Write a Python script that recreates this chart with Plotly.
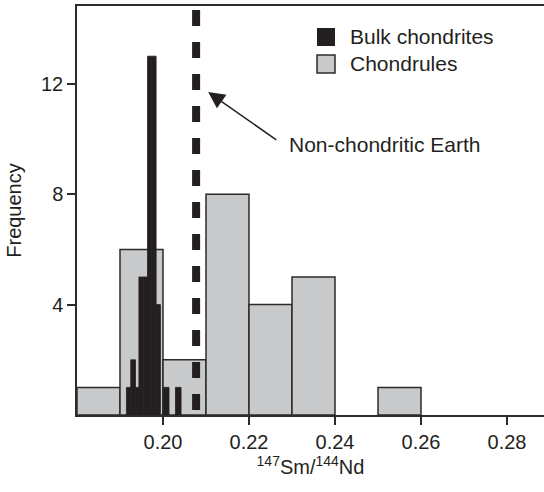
import plotly.graph_objects as go

# Chondrules histogram (bin left edges, counts), bin width 0.01
chondrule_bin_left = [0.18, 0.19, 0.20, 0.21, 0.22, 0.23, 0.25]
chondrule_counts = [1, 6, 2, 8, 4, 5, 1]
chondrule_bin_width = 0.01

# Bulk chondrites histogram (bin left edges, widths, counts)
bulk_bin_left = [0.1915, 0.1925, 0.1936, 0.1944, 0.1954, 0.1964, 0.1974, 0.1984, 0.2001, 0.2029]
bulk_bin_width = [0.0010, 0.0011, 0.0008, 0.0010, 0.0010, 0.0010, 0.0010, 0.0010, 0.0013, 0.0013]
bulk_counts = [1, 2, 1, 5, 5, 13, 13, 4, 1, 1]

earth_ratio = 0.2077
x_ticks = [0.20, 0.22, 0.24, 0.26, 0.28]
y_ticks = [4, 8, 12]
series_names = ["Bulk chondrites", "Chondrules"]
earth_label = "Non-chondritic Earth"

INK = "#231f20"
GRAY = "#c8c9cb"
FONT = "Liberation Sans, Arial, sans-serif"

fig = go.Figure()
fig.add_trace(go.Bar(
    x=chondrule_bin_left, y=chondrule_counts, width=chondrule_bin_width, offset=0,
    marker=dict(color=GRAY, line=dict(color="#2b2b2b", width=1.5)),
    name=series_names[1], showlegend=False))
fig.add_trace(go.Bar(
    x=bulk_bin_left, y=bulk_counts, width=bulk_bin_width, offset=0,
    marker=dict(color=INK, line=dict(color=INK, width=0.8)),
    name=series_names[0], showlegend=False))

# dashed line for Earth
fig.add_shape(type="line", xref="x", yref="y", x0=earth_ratio, x1=earth_ratio,
              y0=14.67, y1=0, line=dict(color=INK, width=8, dash="16px,16px"), layer="above")

# arrow
fig.add_annotation(x=0.2105, y=11.70, ax=0.2267, ay=9.93, axref="x", ayref="y",
                   xref="x", yref="y", text="", showarrow=True, arrowhead=2,
                   arrowsize=2.2, arrowwidth=1.5, arrowcolor=INK, standoff=0)
fig.add_annotation(x=(287 - 77) / 467, y=(415 - 145) / 409, xref="paper", yref="paper",
                   text=earth_label, showarrow=False, xanchor="left", yanchor="middle",
                   font=dict(size=21, color=INK, family=FONT))

# manual legend
legend_colors = [INK, GRAY]
for i, (nm, col) in enumerate(zip(series_names, legend_colors)):
    top = 28 + 27 * i
    fig.add_shape(type="rect", xref="paper", yref="paper",
                  x0=(317 - 77) / 467, x1=(335 - 77) / 467,
                  y0=(415 - top) / 409, y1=(415 - top - 18) / 409,
                  fillcolor=col, line=dict(color=INK if i == 0 else "#2b2b2b", width=1.5 if i else 0))
    fig.add_annotation(x=(348 - 77) / 467, y=(415 - (top + 9)) / 409, xref="paper", yref="paper",
                       text=nm, showarrow=False, xanchor="left", yanchor="middle",
                       font=dict(size=21, color=INK, family=FONT))

fig.update_layout(
    width=544, height=492,
    margin=dict(l=77, r=0, t=6, b=77),
    paper_bgcolor="white", plot_bgcolor="white",
    barmode="overlay",
    showlegend=False,
    font=dict(family=FONT, size=20, color=INK),
    xaxis=dict(range=[0.18, 0.18 + 467 / 4300], tickvals=x_ticks,
               ticktext=[f"{v:.2f}" for v in x_ticks],
               showline=True, linecolor="#2b2b2b", linewidth=1.5, mirror=True,
               ticks="outside", ticklen=8, tickwidth=1.5, tickcolor="#2b2b2b",
               showgrid=False, zeroline=False,
               tickfont=dict(size=20, color=INK),
               title=dict(text="<sup>147</sup>Sm/<sup>144</sup>Nd", standoff=6,
                          font=dict(size=20, color=INK))),
    yaxis=dict(range=[0, (415 - 6) / 27.6], tickvals=y_ticks,
               showline=True, linecolor="#2b2b2b", linewidth=1.5, mirror=False,
               ticks="outside", ticklen=8, tickwidth=1.5, tickcolor="#2b2b2b",
               showgrid=False, zeroline=False,
               tickfont=dict(size=20, color=INK),
               title=dict(text="Frequency", standoff=14, font=dict(size=20, color=INK))),
)

fig.write_html("out.html")
